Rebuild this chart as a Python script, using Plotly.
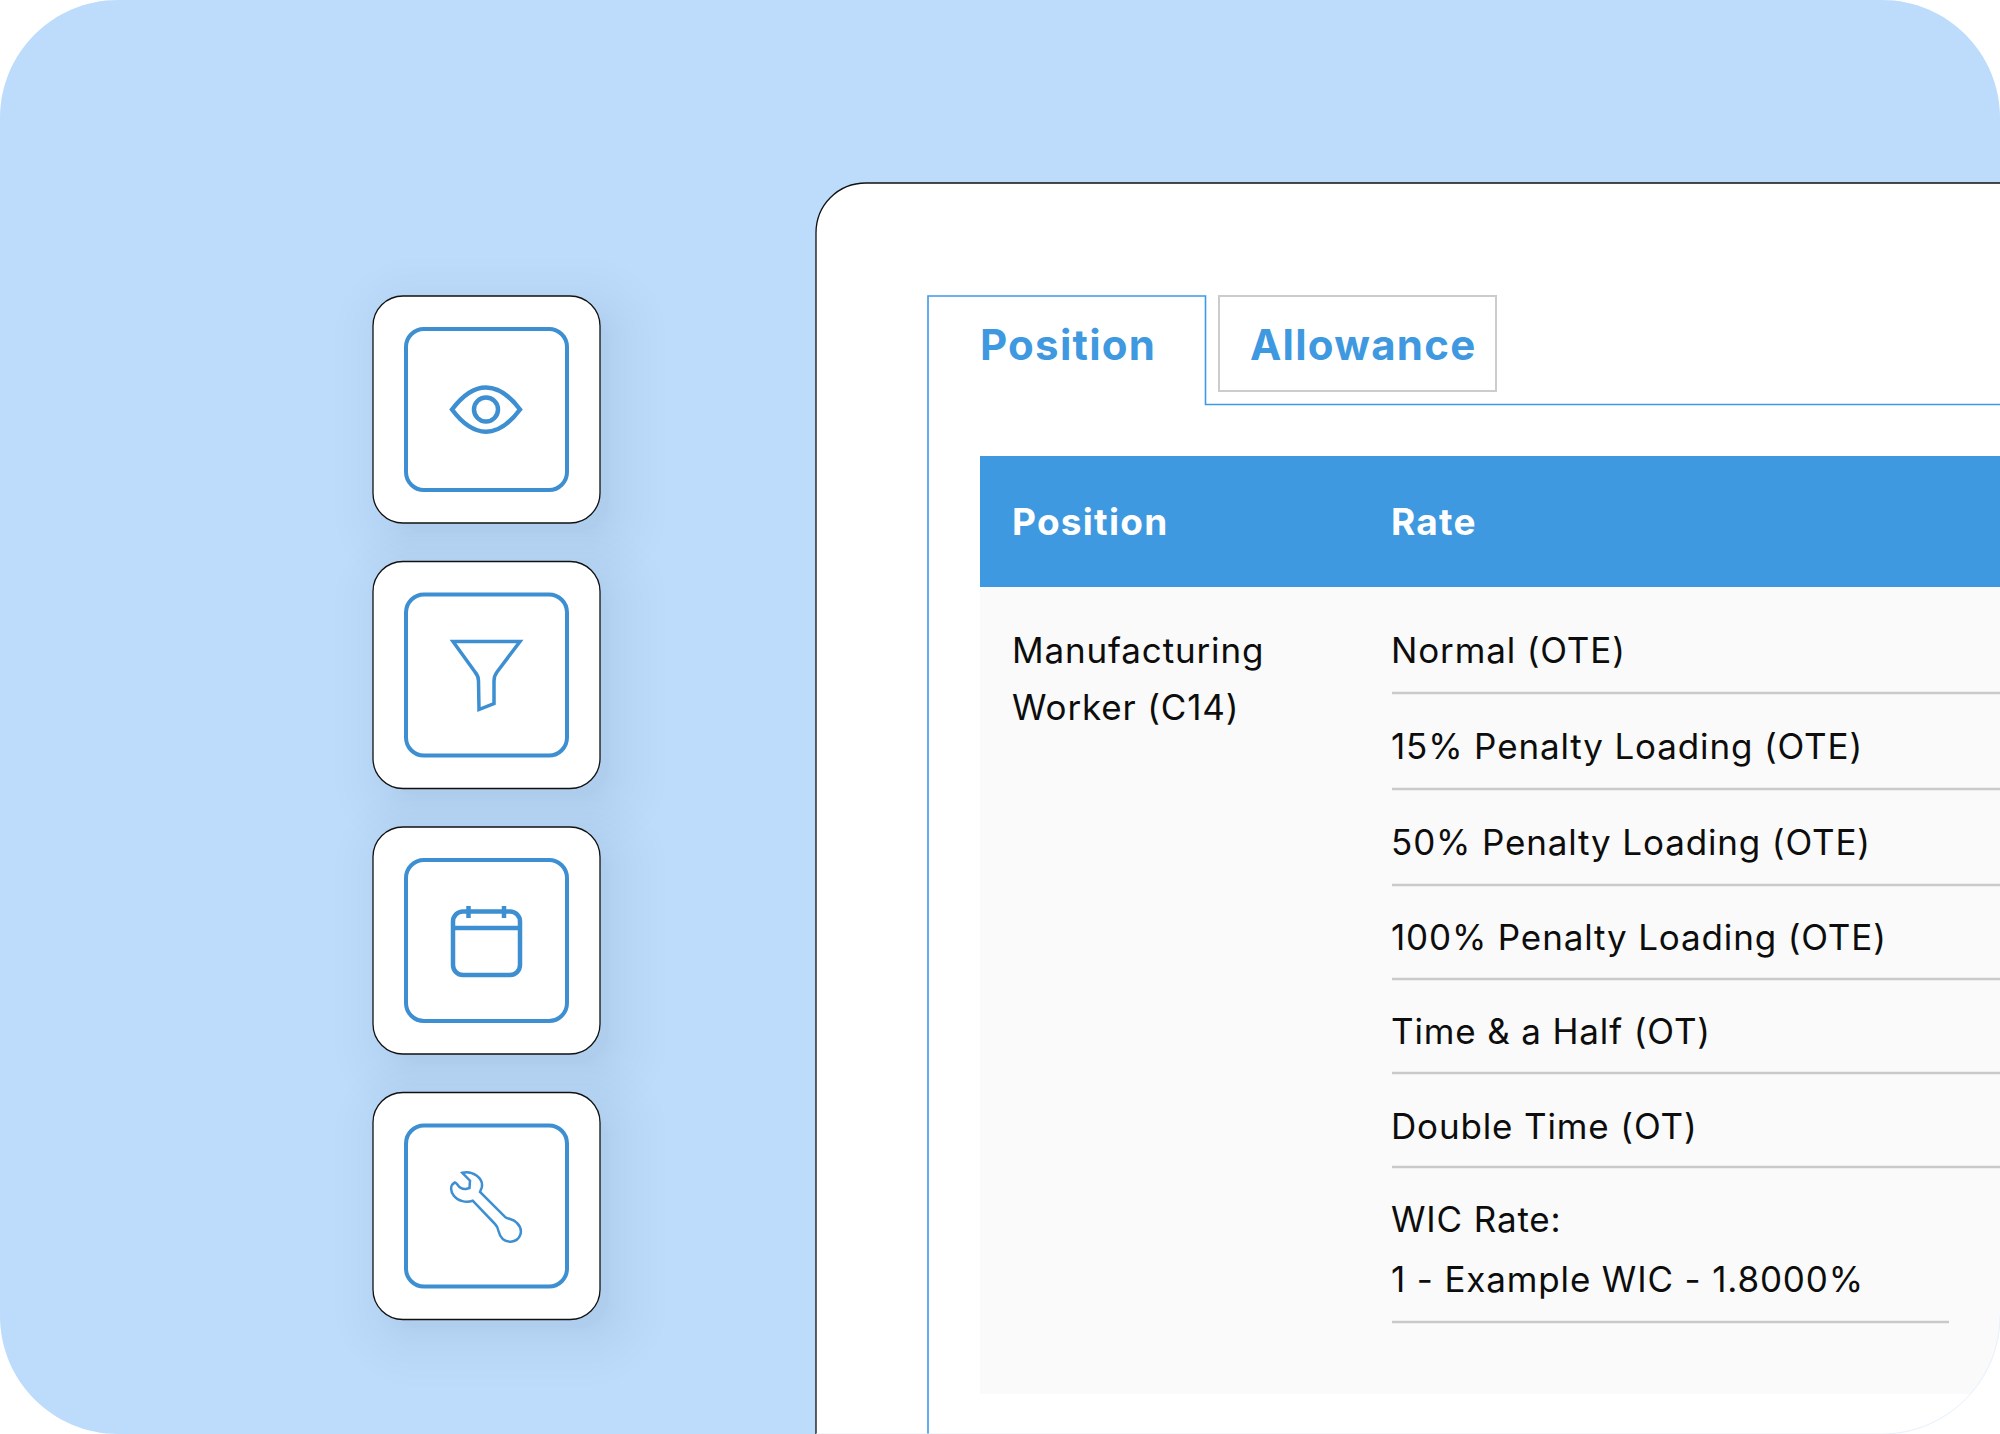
import plotly.graph_objects as go

WIDTH = 2000
HEIGHT = 1434

TAB_LABELS = ["Position", "Allowance"]
HEADER_LABELS = ["Position", "Rate"]
POSITION_LINES = ["Manufacturing", "Worker (C14)"]
RATE_LABELS = [
    "Normal (OTE)",
    "15% Penalty Loading (OTE)",
    "50% Penalty Loading (OTE)",
    "100% Penalty Loading (OTE)",
    "Time & a Half (OT)",
    "Double Time (OT)",
    "WIC Rate:",
    "1 - Example WIC - 1.8000%",
]

BLUE_BG = "#bddbfb"
ACCENT = "#3f99e0"
ICON = "#3d8fd1"
TAB_LINE = "#3d99ea"
GREY_LINE = "#c9c9c9"
FONT = "Inter"

KAPPA = 0.5523


def round_rect(x0, y0, x1, y1, r):
    """Rounded rectangle as an svg path, plotly does not take arcs on data axes."""
    k = r * (1 - KAPPA)
    return (
        f"M{x0 + r},{y0} L{x1 - r},{y0} C{x1 - k},{y0} {x1},{y0 + k} {x1},{y0 + r} "
        f"L{x1},{y1 - r} C{x1},{y1 - k} {x1 - k},{y1} {x1 - r},{y1} "
        f"L{x0 + r},{y1} C{x0 + k},{y1} {x0},{y1 - k} {x0},{y1 - r} "
        f"L{x0},{y0 + r} C{x0},{y0 + k} {x0 + k},{y0} {x0 + r},{y0} Z"
    )


def circle(cx, cy, r):
    return round_rect(cx - r, cy - r, cx + r, cy + r, r)


def path_shape(path, fill="rgba(0,0,0,0)", line=None, width=0, opacity=None):
    shape = dict(
        type="path",
        path=path,
        xref="x",
        yref="y",
        fillcolor=fill,
        line=dict(color=line or "rgba(0,0,0,0)", width=width),
    )
    if opacity is not None:
        shape["opacity"] = opacity
    return shape


def label(text, x, y, size, color="#0d0d0d", weight=400):
    return dict(
        text=text,
        x=x,
        y=y,
        xref="x",
        yref="y",
        xanchor="left",
        yanchor="middle",
        align="left",
        showarrow=False,
        font=dict(family=FONT, size=size, color=color, weight=weight),
    )


shapes = []

# outer blue card
shapes.append(path_shape(round_rect(0, 0, 2000, 1434, 118), fill=BLUE_BG))

# icon cards, soft shadow faked with stacked translucent rects
card_tops = [296, 561.5, 827, 1092.5]
for top in card_tops:
    for step in range(1, 15):
        grow = 0.3 * step * step - 6
        shapes.append(
            path_shape(
                round_rect(373 + 14 - grow, top + 14 - grow, 600 + 14 + grow, top + 227 + 14 + grow, 30 + max(grow, 0)),
                fill="#000000",
                opacity=0.0055,
            )
        )
for top in card_tops:
    shapes.append(path_shape(round_rect(373, top, 600, top + 227, 30), fill="white", line="#111111", width=1.3))
    shapes.append(path_shape(round_rect(406, top + 33, 567, top + 194, 18), fill="white", line=ICON, width=4))

# eye
shapes.append(path_shape("M452,409.5 C474,380 498,380 520,409.5 C498,439 474,439 452,409.5 Z", line=ICON, width=4.5))
shapes.append(path_shape(circle(486, 409.5, 12), line=ICON, width=4.5))

# funnel
shapes.append(
    path_shape(
        "M453,641.5 L520,641.5 L497,672 Q494,676 494,681 L494,703.5 L479,709.5 L478.5,681 Q478.5,676 475,672 Z",
        line=ICON,
        width=3.5,
    )
)

# calendar
shapes.append(path_shape(round_rect(453, 911.5, 520, 975, 10), line=ICON, width=4.5))
shapes.append(path_shape("M453,928 L520,928", line=ICON, width=4.5))
shapes.append(path_shape("M468.5,906 L468.5,918", line=ICON, width=4.5))
shapes.append(path_shape("M504,906 L504,918", line=ICON, width=4.5))

# wrench
shapes.append(
    path_shape(
        "M462.3,1172.8 C472,1170 484,1178 481.7,1187.6 L480,1192 L505,1216.9 "
        "C509,1220 513,1218 517,1223 C524,1230 521,1241 510.7,1241.7 "
        "C503,1242 500,1237 498.5,1231 C498,1228 497,1226 495,1224 L472.7,1200.7 "
        "C466,1203 458,1201 454,1196 C450,1191 450,1185 455,1182.4 "
        "C458,1183 458,1190 466,1189 L469.5,1188 L470,1180.7 Z",
        line=ICON,
        width=2.5,
    )
)

# main panel, runs off the right and bottom of the picture
shapes.append(
    path_shape(
        "M816,1440 L816,233 C816,205 838,183 866,183 L2010,183 L2010,1440 Z",
        fill="white",
        line="#111111",
        width=1.3,
    )
)

# tabs
shapes.append(path_shape("M928,1440 L928,296 L1205.5,296 L1205.5,404.5 L2010,404.5", line=TAB_LINE, width=1.6))
shapes.append(path_shape("M1219,296 L1496,296 L1496,391 L1219,391 Z", fill="white", line="#cccccc", width=2))

# table
shapes.append(path_shape("M980,587 L2000,587 L2000,1394 L980,1394 Z", fill="#fafafa"))
shapes.append(path_shape("M980,456 L2000,456 L2000,587 L980,587 Z", fill=ACCENT))

separator_y = [693, 789, 885, 979, 1073, 1167]
for y in separator_y:
    shapes.append(path_shape(f"M1392,{y} L2000,{y}", line=GREY_LINE, width=2.4))
shapes.append(path_shape("M1392,1322 L1949,1322", line=GREY_LINE, width=2.4))

# white corner bottom right, outer card radius clips the panel
shapes.append(path_shape("M2000,1316 C2000,1381 1947,1434 1882,1434 L2000,1434 Z", fill="white"))
shapes.append(path_shape("M2000,1316 C2000,1381 1947,1434 1882,1434 L816,1434", line="#e4f0fd", width=1))

annotations = [
    label(TAB_LABELS[0], 977.5, 344.5, 42, ACCENT, 700),
    label(TAB_LABELS[1], 1247.5, 344.5, 42, ACCENT, 700),
    label(HEADER_LABELS[0], 1009.5, 521, 37, "white", 700),
    label(HEADER_LABELS[1], 1389, 521, 37, "white", 700),
]
for text, y in zip(POSITION_LINES, [650, 707]):
    annotations.append(label(text, 1009.5, y, 35))
rate_y = [650, 746, 842, 937, 1031, 1126, 1219, 1279]
for text, y in zip(RATE_LABELS, rate_y):
    annotations.append(label(text, 1389, y, 35))

fig = go.Figure()
fig.update_layout(
    width=WIDTH,
    height=HEIGHT,
    margin=dict(l=0, r=0, t=0, b=0),
    paper_bgcolor="white",
    plot_bgcolor="white",
    showlegend=False,
    shapes=shapes,
    annotations=annotations,
)
fig.update_xaxes(range=[0, WIDTH], visible=False, fixedrange=True)
fig.update_yaxes(range=[HEIGHT, 0], visible=False, fixedrange=True)

# plotly has no letter spacing setting, the reference text is tracked out a bit
page_css = """
document.body.style.margin = '0';
var css = document.createElement('style');
css.textContent = '.annotation-text{letter-spacing:0.85px}'
    + '.annotation-text[style*="font-weight: 700"]{letter-spacing:1.25px}';
document.head.appendChild(css);
"""
fig.write_html("out.html", config={"displayModeBar": False}, post_script=page_css)
